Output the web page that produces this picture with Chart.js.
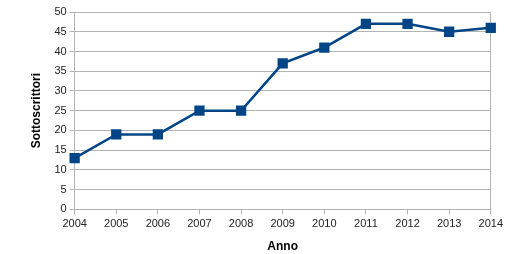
<!DOCTYPE html>
<html>
<head>
<meta charset="utf-8">
<script src="https://cdn.jsdelivr.net/npm/chart.js@4"></script>
<style>
html,body{margin:0;padding:0;background:#fff;}
#wrap{width:506px;height:254px;}
</style>
</head>
<body>
<div id="wrap"><canvas id="grafico"></canvas></div>
<script>
const anni=["2004","2005","2006","2007","2008","2009","2010","2011","2012","2013","2014"];
const sottoscrittori=[13,19,19,25,25,37,41,47,47,45,46];
const yMin=0, yMax=50, yStep=5;

const grigio="#b3b3b3";
const ctx=document.getElementById("grafico");
new Chart(ctx,{
    type:"line",
    data:{
        labels:anni,
        datasets:[{
            label:"Sottoscrittori",
            data:sottoscrittori,
            borderColor:"#004586",
            backgroundColor:"#004586",
            borderWidth:2.5,
            pointStyle:"rect",
            pointRadius:5.5,
            pointHoverRadius:5.5,
            tension:0
        }]
    },
    options:{
        responsive:true,
        maintainAspectRatio:false,
        animation:false,
        layout:{padding:{left:29,right:7,top:12,bottom:0}},
        plugins:{legend:{display:false},tooltip:{enabled:false}},
        scales:{
            x:{
                offset:false,
                grid:{
                    color:c=>c.index===anni.length-1?grigio:"transparent",
                    tickColor:grigio,
                    tickLength:5
                },
                border:{color:grigio},
                ticks:{color:"#222",font:{family:"Liberation Sans",size:11},maxRotation:0,padding:3},
                title:{display:true,text:"Anno",color:"#000",font:{family:"Liberation Sans",size:12,weight:"bold"},padding:{top:6,bottom:0}}
            },
            y:{
                min:yMin,max:yMax,
                grid:{color:grigio,tickColor:grigio,tickLength:5},
                border:{color:grigio},
                ticks:{stepSize:yStep,color:"#222",font:{family:"Liberation Sans",size:11},padding:3},
                title:{display:true,text:"Sottoscrittori",color:"#000",font:{family:"Liberation Sans",size:12,weight:"bold"},padding:{top:0,bottom:8}}
            }
        }
    }
});
</script>
</body>
</html>
